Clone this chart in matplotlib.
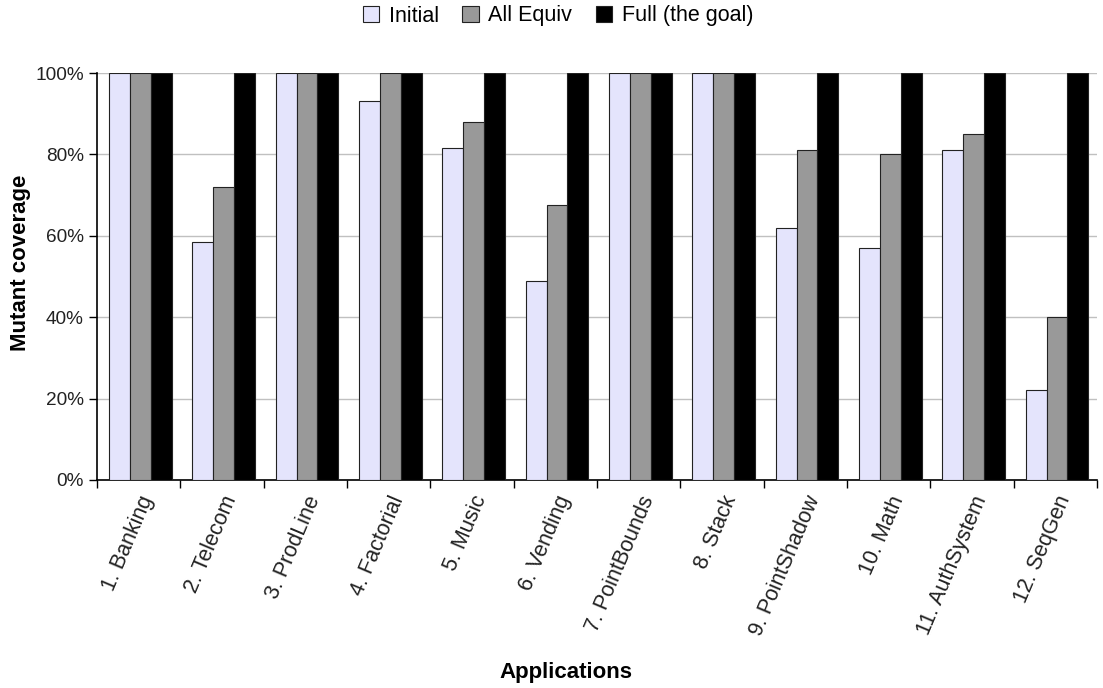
import numpy as np
import matplotlib
matplotlib.use("Agg")
import matplotlib.pyplot as plt
from matplotlib.ticker import FuncFormatter, FixedLocator

plt.rcParams['font.family'] = ['Liberation Sans', 'DejaVu Sans']

    #Data
apps = ["1. Banking", "2. Telecom", "3. ProdLine", "4. Factorial", "5. Music",
        "6. Vending", "7. PointBounds", "8. Stack", "9. PointShadow", "10. Math",
        "11. AuthSystem", "12. SeqGen"]
initial = [100, 58.4, 100, 93, 81.5, 49, 100, 100, 61.9, 57, 81, 22.2]
all_equiv = [100, 72.1, 100, 100, 88, 67.5, 100, 100, 81.2, 80, 85.1, 40]
full = [100, 100, 100, 100, 100, 100, 100, 100, 100, 100, 100, 100]

series = [("Initial", initial, "#e4e4fc"),
          ("All Equiv", all_equiv, "#999999"),
          ("Full (the goal)", full, "#000000")]

fig = plt.figure(figsize=(11.03, 6.88), dpi=100)
ax = fig.add_axes([97/1103, 1 - 480/688, 1000/1103, 407/688])

x = np.arange(len(apps))
w = 0.25
for i, (name, vals, col) in enumerate(series):
    ax.bar(x + (i - 1) * w + 0.02, vals, w, color=col, edgecolor="#222222",
           linewidth=0.8, label=name, zorder=3)

ax.set_xlim(-0.5, len(apps) - 0.5)
ax.set_ylim(0, 100)
ax.set_yticks(np.arange(0, 101, 20))
ax.yaxis.set_major_formatter(FuncFormatter(lambda v, p: "%d%%" % v))
ax.grid(axis="y", color="#c0c0c0", linewidth=1, zorder=0)

    #x ticks sit between groups, labels in the middle
ax.set_xticks(x)
ax.set_xticklabels(apps, rotation=67, ha="right", rotation_mode="anchor",
                   fontsize=15.5, color="#222222")
ax.tick_params(axis="x", length=0, pad=9)
ax.xaxis.set_minor_locator(FixedLocator(np.arange(-0.5, len(apps), 1)))
ax.tick_params(axis="x", which="minor", length=6, width=1)
ax.tick_params(axis="y", length=6, width=1, labelsize=13.7, labelcolor="#222222")

for s in ["top", "right"]:
    ax.spines[s].set_visible(False)
ax.spines["left"].set_linewidth(1.2)
ax.spines["bottom"].set_linewidth(1.2)

ax.set_ylabel("Mutant coverage", fontsize=16, fontweight="bold", va="center")
ax.yaxis.set_label_coords(-0.076, 0.534)
ax.set_xlabel("Applications", fontsize=16, fontweight="bold", va="center")
ax.xaxis.set_label_coords(0.469, -0.472)

fig.legend(loc="center", bbox_to_anchor=(558/1103, 1 - 16/688), ncol=3, frameon=False,
           fontsize=15.5, handlelength=0.75, handleheight=0.75, handletextpad=0.45,
           columnspacing=1.1)

fig.savefig("out.png", dpi=100)
